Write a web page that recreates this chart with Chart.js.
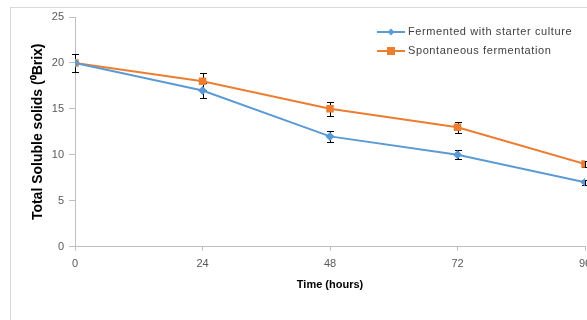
<!DOCTYPE html>
<html>
<head>
<meta charset="utf-8">
<script src="https://cdn.jsdelivr.net/npm/chart.js@4"></script>
<style>
  html, body { margin: 0; padding: 0; background: #fff; overflow: hidden; }
  #cadre { position: absolute; left: 10px; top: 7px; width: 700px; height: 400px; border: 1px solid #d9d9d9; }
  #zone { position: absolute; left: 0; top: 0; width: 620px; height: 330px; }
  #legende { position: absolute; left: 376px; top: 22px; font-family: "Liberation Sans", Arial, sans-serif; font-size: 11px; letter-spacing: 0.6px; color: #404040; }
  #legende div { height: 19px; line-height: 19px; white-space: nowrap; }
  #legende canvas { vertical-align: middle; margin-right: 2px; }
</style>
</head>
<body>
<div id="cadre"></div>
<div id="zone"><canvas id="graphique" width="620" height="330"></canvas></div>
<div id="legende"></div>
<script>
// Données
const HEURES = [0, 24, 48, 72, 96]
const STARTER = [20, 17, 12, 10, 7]
const STARTER_ERR = [1.0, 0.8, 0.6, 0.5, 0.3]
const SPONTANEE = [20, 18, 15, 13, 9]
const SPONTANEE_ERR = [1.0, 0.9, 0.75, 0.6, 0.3]
const Y_TICKS = [0, 5, 10, 15, 20, 25]

const BLEU = '#5B9BD5'
const ORANGE = '#ED7D31'
const AXE = '#BFBFBF'
const TEXTE = '#595959'
const FONTE = "'Liberation Sans', Arial, sans-serif"

const points = (vals) => HEURES.map((h, i) => ({ x: h, y: vals[i] }))

// Barres d'erreur dessinées via les échelles de Chart.js (sous les marqueurs)
const barresErreur = {
  id: 'barresErreur',
  beforeDatasetsDraw(chart) {
    const { ctx, scales: { x, y } } = chart
    ctx.save()
    ctx.strokeStyle = '#000'
    ctx.lineWidth = 1
    chart.data.datasets.forEach(ds => {
      ds.data.forEach((p, i) => {
        const e = ds.erreurs[i]
        const px = Math.round(x.getPixelForValue(p.x)) + 0.5
        const hi = Math.round(y.getPixelForValue(p.y + e)) + 0.5
        const lo = Math.round(y.getPixelForValue(p.y - e)) + 0.5
        ctx.beginPath()
        ctx.moveTo(px, hi); ctx.lineTo(px, lo)
        ctx.moveTo(px - 3.5, hi); ctx.lineTo(px + 3.5, hi)
        ctx.moveTo(px - 3.5, lo); ctx.lineTo(px + 3.5, lo)
        ctx.stroke()
      })
    })
    ctx.restore()
  },
}

const graphique = new Chart(document.getElementById('graphique'), {
  type: 'line',
  data: {
    datasets: [
      {
        label: 'Fermented with starter culture',
        data: points(STARTER), erreurs: STARTER_ERR,
        borderColor: BLEU, backgroundColor: BLEU, borderWidth: 2,
        pointStyle: 'rectRot', pointRadius: 4.5, pointBorderWidth: 0,
        pointBackgroundColor: BLEU, pointBorderColor: BLEU,
      },
      {
        label: 'Spontaneous fermentation',
        data: points(SPONTANEE), erreurs: SPONTANEE_ERR,
        borderColor: ORANGE, backgroundColor: ORANGE, borderWidth: 2,
        pointStyle: 'rect', pointRadius: 5.3, pointBorderWidth: 0,
        pointBackgroundColor: ORANGE, pointBorderColor: ORANGE,
      },
    ],
  },
  options: {
    responsive: false, animation: false, devicePixelRatio: 1,
    layout: { padding: { left: 26, top: 17, right: 35, bottom: 34 } },
    plugins: { legend: { display: false }, tooltip: { enabled: false } },
    scales: {
      x: {
        type: 'linear', min: 0, max: 96,
        afterBuildTicks: s => { s.ticks = HEURES.map(v => ({ value: v })) },
        ticks: { color: TEXTE, font: { family: FONTE, size: 11 }, padding: 7 },
        grid: { drawOnChartArea: false, color: AXE, tickLength: 4 },
        border: { color: AXE },
        title: { display: true, text: 'Time (hours)', color: '#000', font: { family: FONTE, size: 11, weight: 'bold' }, padding: { top: 1 } },
      },
      y: {
        min: 0, max: 25,
        afterBuildTicks: s => { s.ticks = Y_TICKS.map(v => ({ value: v })) },
        ticks: { color: TEXTE, font: { family: FONTE, size: 11 }, padding: 5 },
        grid: { drawOnChartArea: false, color: AXE, tickLength: 6 },
        border: { color: AXE },
        title: { display: true, text: 'Total Soluble solids (⁰Brix)', color: '#000', font: { family: FONTE, size: 14, weight: 'bold' }, padding: { bottom: 0 } },
      },
    },
  },
  plugins: [barresErreur],
})

// Légende HTML (position libre comme dans la figure)
const legende = document.getElementById('legende')
graphique.data.datasets.forEach(ds => {
  const ligne = document.createElement('div')
  const c = document.createElement('canvas')
  c.width = 30; c.height = 10
  const g = c.getContext('2d')
  g.strokeStyle = ds.borderColor; g.lineWidth = 2
  g.beginPath(); g.moveTo(1, 5); g.lineTo(29, 5); g.stroke()
  g.fillStyle = ds.backgroundColor
  if (ds.pointStyle === 'rect') g.fillRect(11, 1, 8, 8)
  else { g.beginPath(); g.moveTo(15, 1.5); g.lineTo(18.5, 5); g.lineTo(15, 8.5); g.lineTo(11.5, 5); g.fill() }
  ligne.appendChild(c)
  ligne.appendChild(document.createTextNode(ds.label))
  legende.appendChild(ligne)
})
</script>
</body>
</html>
